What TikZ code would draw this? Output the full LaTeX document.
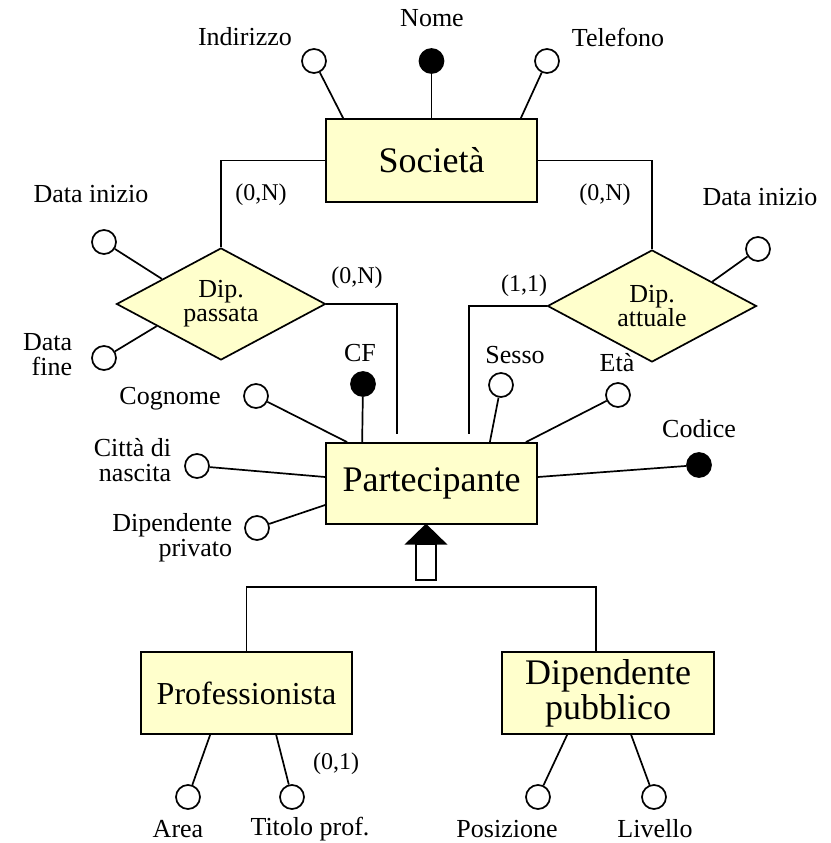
\documentclass[tikz,border=0pt]{standalone}
\usepackage{fontspec}
\setmainfont{Liberation Serif}
\usetikzlibrary{shapes.geometric}
\definecolor{entfill}{HTML}{FFFFCC}
\begin{document}
\begin{tikzpicture}[x=1pt,y=-1pt,line width=1.7pt,
  entity/.style={draw,fill=entfill,minimum width=211pt,minimum height=82pt,inner sep=0pt,align=center,font=\fontsize{36}{35}\selectfont},
  rel/.style={draw,fill=entfill,diamond,aspect=1.9,minimum width=209pt,minimum height=112pt,inner sep=0pt,align=center,font=\fontsize{26}{24}\selectfont},
  attr/.style={draw,circle,fill=white,minimum size=24pt,inner sep=0pt},
  keyattr/.style={attr,fill=black},
  lbl/.style={inner sep=0pt,font=\fontsize{26}{25}\selectfont},
  card/.style={inner sep=0pt,font=\fontsize{24}{24}\selectfont}]
\useasboundingbox (0,0) rectangle (830,843);

% entities and relationships
\node[entity,minimum height=83pt] (soc) at (431.5,160.5) {Società};
\node[entity,minimum height=81pt] (part) at (431.5,483.5) {Partecipante};
\node[entity,font=\fontsize{32}{32}\selectfont] (prof) at (246.5,693) {Professionista};
\node[entity,minimum width=212pt] (dip) at (608,693) {Dipendente\\pubblico};
\node[rel] (dp) at (221,304) {Dip.\\passata};
\node[rel] (da) at (652,306) {Dip.\\attuale};

% attribute markers
\node[attr] (ind) at (314,61) {};
\node[keyattr] (nome) at (431.5,61) {};
\node[attr] (tel) at (547,61) {};
\node[attr] (di1) at (104,242) {};
\node[attr] (df) at (104,358) {};
\node[attr] (di2) at (758,249) {};
\node[keyattr] (cf) at (363,384) {};
\node[attr] (cog) at (256,396) {};
\node[attr] (citta) at (197,466) {};
\node[attr] (dpriv) at (257,528) {};
\node[attr] (sesso) at (501,385) {};
\node[attr] (eta) at (618,395) {};
\node[keyattr] (cod) at (699,465) {};
\node[attr] (area) at (188,797) {};
\node[attr] (tit) at (292,797) {};
\node[attr] (pos) at (538,797) {};
\node[attr] (liv) at (654,797) {};

% attribute links
\draw (ind) -- ([xshift=18pt]soc.north west);
\draw (nome) -- (soc.north);
\draw (tel) -- ([xshift=-17pt]soc.north east);
\draw (di1) -- (dp.157);
\draw (df) -- (dp.199);
\draw (di2) -- (da.22);
\draw (cf) -- ([xshift=37pt]part.north west);
\draw (cog) -- ([xshift=22pt]part.north west);
\draw (citta) -- ([yshift=6.5pt]part.west);
\draw (dpriv) -- ([yshift=-21.5pt]part.west);
\draw (sesso) -- ([xshift=-48pt]part.north east);
\draw (eta) -- ([xshift=-12pt]part.north east);
\draw (cod) -- ([yshift=6.5pt]part.east);
\draw (area) -- ([xshift=70pt]prof.south west);
\draw (tit) -- ([xshift=136pt]prof.south west);
\draw (pos) -- ([xshift=66pt]dip.south west);
\draw (liv) -- ([xshift=130pt]dip.south west);

% relationship links
\draw (soc.west) -| (dp.north);
\draw (soc.east) -| (da.north);
\draw[shorten >=8pt] (dp.east) -| ([xshift=-34.5pt]part.north);
\draw[shorten >=8pt] (da.west) -| ([xshift=37.5pt]part.north);

% generalization
\coordinate (isa) at (426,587);
\draw (prof.north) |- (isa) -| ([xshift=-12pt]dip.north);
\draw[fill=white] ([xshift=-15.5pt,yshift=-19pt]part.south) rectangle ++(20,36);
\draw[fill=black,line join=miter] ([xshift=-5.5pt]part.south) -- ++(-19.5,19) -- ++(39,0) -- cycle;

% labels
\node[lbl] (l-ind) at (245,37) {Indirizzo};
\node[lbl] (l-nome) at (432,18) {Nome};
\node[lbl] (l-tel) at (618,37) {Telefono};
\node[card] (c1) at (261,195) {(0,N)};
\node[card] (c2) at (605,195) {(0,N)};
\node[lbl] (l-di1) at (91,194) {Data inizio};
\node[lbl,align=right,anchor=east] (l-df) at (73,355) {Data\\fine};
\node[card] (c3) at (357,278) {(0,N)};
\node[card] (c4) at (524,286) {(1,1)};
\node[lbl] (l-di2) at (760,197) {Data inizio};
\node[lbl] (l-cf) at (360,353) {CF};
\node[lbl] (l-sesso) at (515,355) {Sesso};
\node[lbl] (l-eta) at (617,363) {Età};
\node[lbl] (l-cog) at (170,399) {Cognome};
\node[lbl,align=right,anchor=east] (l-citta) at (172,460) {Città di\\nascita};
\node[lbl,align=right,anchor=east] (l-dpriv) at (233,538) {Dipendente\\privato};
\node[lbl] (l-cod) at (699,429) {Codice};
\node[card] (c5) at (336,764) {(0,1)};
\node[lbl] (l-area) at (178,829) {Area};
\node[lbl] (l-tit) at (310,829) {Titolo prof.};
\node[lbl] (l-pos) at (507,829) {Posizione};
\node[lbl] (l-liv) at (655,829) {Livello};
\end{tikzpicture}
\end{document}
